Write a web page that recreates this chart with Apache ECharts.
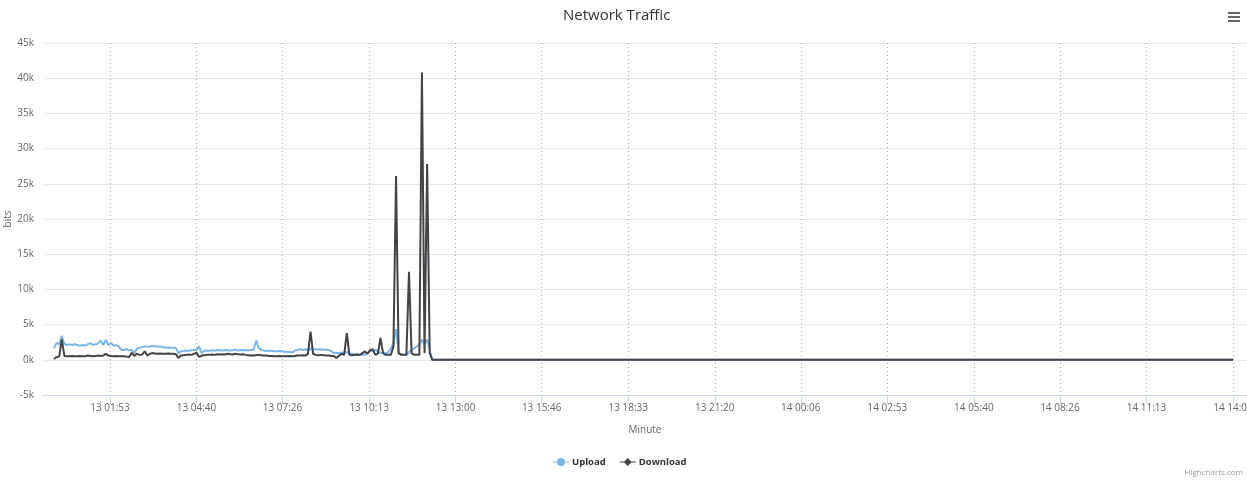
<!DOCTYPE html>
<html>
<head>
<meta charset="utf-8">
<script src="https://cdn.jsdelivr.net/npm/echarts@6/dist/echarts.min.js"></script>
<style>
html,body{margin:0;padding:0;background:#fff;}
#chart{width:1247px;height:482px;}
</style>
</head>
<body>
<div id="chart"></div>
<script>
// ---- data (bits), one sample every 5 minutes starting 13 00:05 ----
const firstSample = '13 00:05';
const stepMinutes = 5;
const flatUntil = '14 14:00'; // both series stay at 0 until this time

const upload = [
  1650, 2400, 2200, 3400, 2300, 2100, 2200, 2100, 2200, 2100,
  2000, 2100, 2000, 2200, 2400, 2100, 2200, 2300, 2750, 2100,
  2800, 2100, 2400, 2000, 2100, 1900, 1400, 1400, 1500, 1400,
  1400, 950, 1550, 1700, 1800, 1900, 1900, 1850, 2000, 1900,
  1900, 1900, 1800, 1700, 1750, 1700, 1700, 1700, 950, 1200,
  1250, 1300, 1300, 1350, 1400, 1400, 1900, 950, 1300, 1300,
  1300, 1350, 1300, 1400, 1350, 1300, 1400, 1350, 1300, 1400,
  1450, 1300, 1400, 1350, 1400, 1300, 1400, 1400, 2750, 1650,
  1400, 1300, 1300, 1300, 1250, 1200, 1200, 1250, 1200, 1150,
  1100, 1100, 1050, 1300, 1400, 1500, 1400, 1500, 1400, 1500,
  1500, 1500, 1450, 1500, 1400, 1450, 1400, 1200, 950, 950,
  950, 1000, 1050, 1100, 900, 850, 800, 750, 700, 700,
  700, 1000, 1200, 1300, 1400, 1200, 950, 950, 900, 1100,
  1600, 2400, 4350, 950, 800, 700, 700, 1100, 1400, 1600,
  1900, 2100, 2900, 2100, 2900, 1400, 0
];
const download = [
  100, 400, 450, 2900, 550, 500, 500, 550, 500, 500,
  550, 500, 500, 600, 550, 500, 550, 600, 550, 600,
  850, 600, 550, 500, 550, 500, 500, 500, 450, 400,
  1000, 550, 850, 700, 750, 1200, 600, 850, 950, 900,
  850, 900, 850, 850, 900, 850, 850, 800, 250, 600,
  650, 700, 750, 700, 850, 1000, 400, 600, 650, 700,
  700, 750, 700, 800, 750, 800, 750, 850, 800, 750,
  850, 800, 750, 800, 700, 650, 600, 600, 650, 700,
  650, 600, 600, 550, 550, 500, 500, 550, 500, 500,
  500, 550, 500, 550, 600, 600, 650, 600, 850, 4000,
  850, 700, 650, 700, 650, 600, 600, 550, 550, 250,
  600, 850, 700, 3800, 700, 650, 700, 750, 700, 950,
  1200, 850, 1400, 1500, 700, 900, 3100, 950, 700, 700,
  700, 1900, 26100, 950, 700, 700, 700, 12500, 950, 700,
  700, 700, 40800, 950, 27800, 950, 0
];

const tickLabels = [
  '13 01:53', '13 04:40', '13 07:26', '13 10:13', '13 13:00', '13 15:46', '13 18:33',
  '13 21:20', '14 00:06', '14 02:53', '14 05:40', '14 08:26', '14 11:13', '14 14:00'
];
const yTicks = [-5000, 0, 5000, 10000, 15000, 20000, 25000, 30000, 35000, 40000, 45000];

// ---- helpers ----
function toMinutes(label) {
  const [d, hm] = label.split(' ');
  const [h, m] = hm.split(':').map(Number);
  return (Number(d) - 13) * 1440 + h * 60 + m;
}
const t0 = toMinutes(firstSample);
const tEnd = toMinutes(flatUntil);
function build(values) {
  const pts = values.map((v, i) => [t0 + i * stepMinutes, v]);
  pts.push([tEnd, 0]);
  return pts;
}
const tickMinutes = tickLabels.map(toMinutes);
const labelByMinute = {};
tickLabels.forEach((l, i) => { labelByMinute[tickMinutes[i]] = l; });

const FONT = '"Open Sans", "Noto Sans", sans-serif';
const chart = echarts.init(document.getElementById('chart'), null, {renderer: 'canvas'});

const circleIcon = 'path://M0,3.5 L16,3.5 L16,4.5 L0,4.5 Z M8,0 A4,4 0 1,1 8,8 A4,4 0 1,1 8,0 Z';
const diamondIcon = 'path://M0,3.5 L16,3.5 L16,4.5 L0,4.5 Z M8,0 L12,4 L8,8 L4,4 Z';

chart.setOption({
  animation: false,
  backgroundColor: '#ffffff',
  title: {
    text: 'Network Traffic',
    left: 558,
    top: 3,
    textStyle: {fontFamily: FONT, fontSize: 15, fontWeight: 'normal', color: '#333333'}
  },
  legend: {
    left: 548,
    top: 452,
    itemWidth: 16,
    itemHeight: 8,
    itemGap: 14,
    textStyle: {fontFamily: FONT, fontSize: 9.5, fontWeight: 'bold', color: '#333333', padding: [0, 0, 0, -2]},
    data: [
      {name: 'Upload', icon: circleIcon},
      {name: 'Download', icon: diamondIcon}
    ]
  },
  grid: {left: 43, right: 0, top: 43, bottom: 87, containLabel: false, outerBoundsMode: 'none'},
  xAxis: {
    type: 'value',
    min: -16.2,
    max: 2307,
    name: 'Minute',
    nameLocation: 'middle',
    nameGap: 30,
    nameMoveOverlap: false,
    nameTextStyle: {fontFamily: FONT, fontSize: 10, color: '#666666'},
    axisLine: {show: true, onZero: false, lineStyle: {color: '#ccd6eb', width: 1}},
    axisTick: {show: true, length: 9, customValues: tickMinutes, lineStyle: {color: '#ccd6eb'}},
    axisLabel: {
      customValues: tickMinutes,
      margin: 8,
      hideOverlap: false,
      fontFamily: FONT, fontSize: 10, color: '#666666',
      formatter: v => labelByMinute[v] || ''
    },
    splitLine: {show: true, lineStyle: {color: '#a8a8a8', type: [1, 3], width: 1}}
  },
  yAxis: {
    type: 'value',
    min: -5000,
    max: 45000,
    interval: 5000,
    name: 'bits',
    nameLocation: 'middle',
    nameRotate: 90,
    nameGap: 30,
    nameMoveOverlap: false,
    nameTextStyle: {fontFamily: FONT, fontSize: 10, color: '#666666'},
    axisLine: {show: false},
    axisTick: {show: false},
    axisLabel: {
      margin: 9,
      fontFamily: FONT, fontSize: 10, color: '#666666',
      formatter: v => (yTicks.includes(v) ? (v / 1000) + 'k' : '')
    },
    splitLine: {show: true, lineStyle: {color: '#e6e6e6', width: 1}}
  },
  series: [
    {
      name: 'Upload',
      type: 'line',
      data: build(upload),
      showSymbol: false,
      symbol: 'circle',
      color: '#7cb5ec',
      lineStyle: {width: 2, color: '#7cb5ec'},
      z: 2
    },
    {
      name: 'Download',
      type: 'line',
      data: build(download),
      showSymbol: false,
      symbol: 'diamond',
      color: '#434348',
      lineStyle: {width: 2, color: '#434348'},
      z: 3
    }
  ],
  graphic: [
    {type: 'rect', shape: {x: 1228, y: 12, width: 12, height: 2}, style: {fill: '#666666'}},
    {type: 'rect', shape: {x: 1228, y: 16, width: 12, height: 2}, style: {fill: '#666666'}},
    {type: 'rect', shape: {x: 1228, y: 20, width: 12, height: 2}, style: {fill: '#666666'}},
    {type: 'text', right: 4, top: 469,
     style: {text: 'Highcharts.com', fontFamily: FONT, fontSize: 8, fill: '#999999'}}
  ]
});
</script>
</body>
</html>
